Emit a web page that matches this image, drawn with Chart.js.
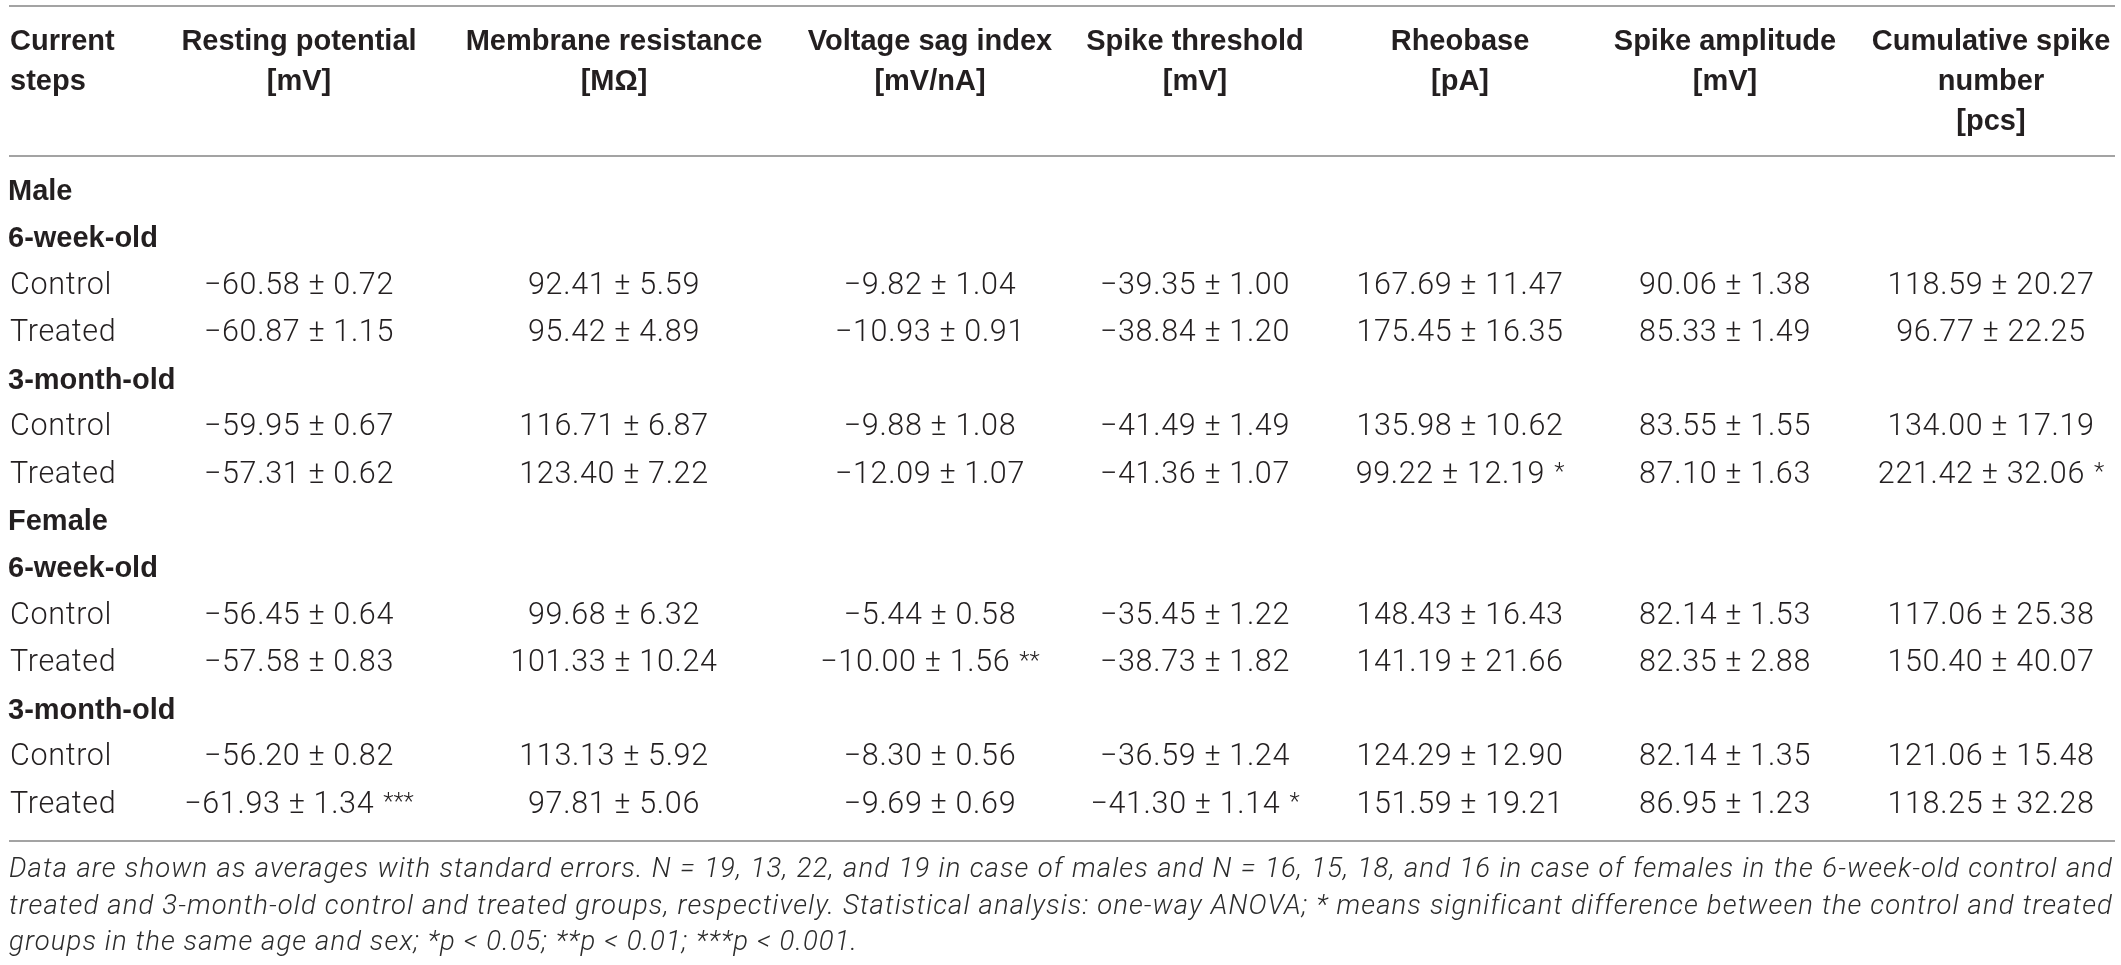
<!DOCTYPE html>
<html lang="en">
<head>
<meta charset="utf-8">
<script src="https://cdn.jsdelivr.net/npm/chart.js"></script>
<style>
    html, body { margin: 0; padding: 0; background: #ffffff; }
    #wrap { width: 2121px; height: 965px; }
</style>
</head>
<body>
<div id="wrap"><canvas id="tbl" width="2121" height="965"></canvas></div>
<script>
// ---- table content ----
const headers = [
    ['Resting potential', '[mV]'],
    ['Membrane resistance', '[MΩ]'],
    ['Voltage sag index', '[mV/nA]'],
    ['Spike threshold', '[mV]'],
    ['Rheobase', '[pA]'],
    ['Spike amplitude', '[mV]'],
    ['Cumulative spike', 'number', '[pcs]']
];
const firstHeader = ['Current', 'steps'];
const rowLabels = ['Male', '6-week-old', 'Control', 'Treated', '3-month-old', 'Control', 'Treated',
                   'Female', '6-week-old', 'Control', 'Treated', '3-month-old', 'Control', 'Treated'];
const boldRows = [0, 1, 4, 7, 8, 11];
// table row of each group: M 6w C/T, M 3m C/T, F 6w C/T, F 3m C/T
const groupRows = [2, 3, 5, 6, 9, 10, 12, 13];

const restingMean = [-60.58, -60.87, -59.95, -57.31, -56.45, -57.58, -56.20, -61.93];
const restingSE   = [0.72, 1.15, 0.67, 0.62, 0.64, 0.83, 0.82, 1.34];
const restingSig  = [0, 0, 0, 0, 0, 0, 0, 3];

const resistMean = [92.41, 95.42, 116.71, 123.40, 99.68, 101.33, 113.13, 97.81];
const resistSE   = [5.59, 4.89, 6.87, 7.22, 6.32, 10.24, 5.92, 5.06];
const resistSig  = [0, 0, 0, 0, 0, 0, 0, 0];

const sagMean = [-9.82, -10.93, -9.88, -12.09, -5.44, -10.00, -8.30, -9.69];
const sagSE   = [1.04, 0.91, 1.08, 1.07, 0.58, 1.56, 0.56, 0.69];
const sagSig  = [0, 0, 0, 0, 0, 2, 0, 0];

const thresholdMean = [-39.35, -38.84, -41.49, -41.36, -35.45, -38.73, -36.59, -41.30];
const thresholdSE   = [1.00, 1.20, 1.49, 1.07, 1.22, 1.82, 1.24, 1.14];
const thresholdSig  = [0, 0, 0, 0, 0, 0, 0, 1];

const rheobaseMean = [167.69, 175.45, 135.98, 99.22, 148.43, 141.19, 124.29, 151.59];
const rheobaseSE   = [11.47, 16.35, 10.62, 12.19, 16.43, 21.66, 12.90, 19.21];
const rheobaseSig  = [0, 0, 0, 1, 0, 0, 0, 0];

const amplitudeMean = [90.06, 85.33, 83.55, 87.10, 82.14, 82.35, 82.14, 86.95];
const amplitudeSE   = [1.38, 1.49, 1.55, 1.63, 1.53, 2.88, 1.35, 1.23];
const amplitudeSig  = [0, 0, 0, 0, 0, 0, 0, 0];

const spikesMean = [118.59, 96.77, 134.00, 221.42, 117.06, 150.40, 121.06, 118.25];
const spikesSE   = [20.27, 22.25, 17.19, 32.06, 25.38, 40.07, 15.48, 32.28];
const spikesSig  = [0, 0, 0, 1, 0, 0, 0, 0];

const footnote = [
    'Data are shown as averages with standard errors. N = 19, 13, 22, and 19 in case of males and N = 16, 15, 18, and 16 in case of females in the 6-week-old control and',
    'treated and 3-month-old control and treated groups, respectively. Statistical analysis: one-way ANOVA; * means significant difference between the control and treated',
    'groups in the same age and sex; *p < 0.05; **p < 0.01; ***p < 0.001.'
];

// ---- layout ----
const W = 2121, H = 965;
const colX = [299, 614, 930, 1195, 1460, 1725, 1991];
const LEFT = 9, RIGHT = 2115;
const ROW_H = 47.15, FIRST_ROW = 192;
const INK = '#231f20';
const RULE = '#a3a3a3';
const HEAD_FONT = 'bold 29px "Liberation Sans", Arial, sans-serif';
const BODY_FONT = '300 30.5px Roboto, "Liberation Sans", sans-serif';
const STAR_FONT = '300 24px Roboto, "Liberation Sans", sans-serif';
const NOTE_FONT = 'italic 300 27.5px Roboto, "Liberation Sans", sans-serif';
const CELL_W = 190;   // width of a "−60.58 ± 0.72" cell in the reference

const columns = [
    [restingMean, restingSE, restingSig],
    [resistMean, resistSE, resistSig],
    [sagMean, sagSE, sagSig],
    [thresholdMean, thresholdSE, thresholdSig],
    [rheobaseMean, rheobaseSE, rheobaseSig],
    [amplitudeMean, amplitudeSE, amplitudeSig],
    [spikesMean, spikesSE, spikesSig]
];

function fmt(v) {
    return v.toFixed(2).replace('-', '\u2212');
}

const datasets = columns.map(([mean, se, sig], j) => ({
    label: headers[j].join(' '),
    data: groupRows.map(r => ({ x: colX[j], y: r })),
    mean: mean, se: se, sig: sig,
    pointRadius: 0
}));

const tablePlugin = {
    id: 'tableText',
    afterDatasetsDraw(chart) {
        const ctx = chart.ctx;
        const y = chart.scales.y;
        ctx.save();
        ctx.fillStyle = INK;
        ctx.textBaseline = 'middle';

        // rules
        const topRule = y.getPixelForValue(-3.945);
        const headRule = y.getPixelForValue(-0.77);
        const bottomRule = y.getPixelForValue(13.775);
        ctx.strokeStyle = RULE;
        ctx.lineWidth = 2;
        [topRule, headRule, bottomRule].forEach(v => {
            const py = Math.round(v);
            ctx.beginPath();
            ctx.moveTo(LEFT, py);
            ctx.lineTo(RIGHT, py);
            ctx.stroke();
        });

        // body letter spacing so the cells match the reference width
        ctx.font = BODY_FONT;
        ctx.letterSpacing = '0px';
        const sample = fmt(restingMean[0]) + ' \u00b1 ' + restingSE[0].toFixed(2);
        const bodyLs = Math.max(0, Math.min(2, (CELL_W - ctx.measureText(sample).width) / sample.length));

        // header
        const headTop = topRule + 36;
        ctx.font = HEAD_FONT;
        ctx.textAlign = 'left';
        firstHeader.forEach((t, k) => ctx.fillText(t, LEFT + 1, headTop + k * 40));
        ctx.textAlign = 'center';
        headers.forEach((lines, j) => {
            lines.forEach((t, k) => ctx.fillText(t, colX[j], headTop + k * 40));
        });

        // row labels
        ctx.textAlign = 'left';
        rowLabels.forEach((t, i) => {
            const bold = boldRows.includes(i);
            ctx.font = bold ? HEAD_FONT : BODY_FONT;
            ctx.letterSpacing = bold ? '0px' : bodyLs.toFixed(2) + 'px';
            ctx.fillText(t, bold ? LEFT - 1 : LEFT + 1, y.getPixelForValue(i));
        });

        // cells: value ± SE, with raised significance stars, whole string centred
        chart.data.datasets.forEach((ds, j) => {
            const meta = chart.getDatasetMeta(j);
            meta.data.forEach((pt, i) => {
                const txt = fmt(ds.mean[i]) + ' \u00b1 ' + ds.se[i].toFixed(2);
                ctx.font = BODY_FONT;
                ctx.letterSpacing = bodyLs.toFixed(2) + 'px';
                const w = ctx.measureText(txt).width;
                let stars = '', sw = 0, gap = 0;
                if (ds.sig[i]) {
                    stars = '*'.repeat(ds.sig[i]);
                    ctx.font = STAR_FONT;
                    ctx.letterSpacing = '0px';
                    sw = ctx.measureText(stars).width;
                    gap = 9;
                }
                const x0 = pt.x - (w + gap + sw) / 2;
                ctx.font = BODY_FONT;
                ctx.letterSpacing = bodyLs.toFixed(2) + 'px';
                ctx.textAlign = 'left';
                ctx.fillText(txt, x0, pt.y);
                if (stars) {
                    ctx.font = STAR_FONT;
                    ctx.letterSpacing = '0px';
                    ctx.fillText(stars, x0 + w + gap, pt.y - 2);
                }
            });
        });

        // footnote, first two lines justified
        ctx.font = NOTE_FONT;
        ctx.letterSpacing = '0px';
        const natural = ctx.measureText(footnote[0]).width;
        const noteLs = Math.max(0, Math.min(1.5, (RIGHT - LEFT - 20 - natural) / footnote[0].length));
        ctx.letterSpacing = noteLs.toFixed(2) + 'px';
        ctx.fillStyle = '#2b2b2b';
        ctx.textAlign = 'left';
        const noteTop = bottomRule + 29;
        footnote.forEach((line, k) => {
            const py = noteTop + k * 36.5;
            if (k === footnote.length - 1) {
                ctx.fillText(line, LEFT, py);
                return;
            }
            const words = line.split(' ');
            const widths = words.map(wd => ctx.measureText(wd).width);
            const total = widths.reduce((a, b) => a + b, 0);
            const gap = (RIGHT - 2 - LEFT - total) / (words.length - 1);
            let px = LEFT;
            words.forEach((wd, i) => {
                ctx.fillText(wd, px, py);
                px += widths[i] + gap;
            });
        });
        ctx.restore();
    }
};

new Chart(document.getElementById('tbl'), {
    type: 'scatter',
    data: { datasets: datasets },
    options: {
        responsive: false,
        animation: false,
        devicePixelRatio: 1,
        events: [],
        layout: { padding: 0 },
        scales: {
            x: { type: 'linear', min: 0, max: W, display: false },
            y: { type: 'linear', reverse: true,
                 min: -FIRST_ROW / ROW_H, max: (H - FIRST_ROW) / ROW_H, display: false }
        },
        plugins: { legend: { display: false }, tooltip: { enabled: false } }
    },
    plugins: [tablePlugin]
});
</script>
</body>
</html>
